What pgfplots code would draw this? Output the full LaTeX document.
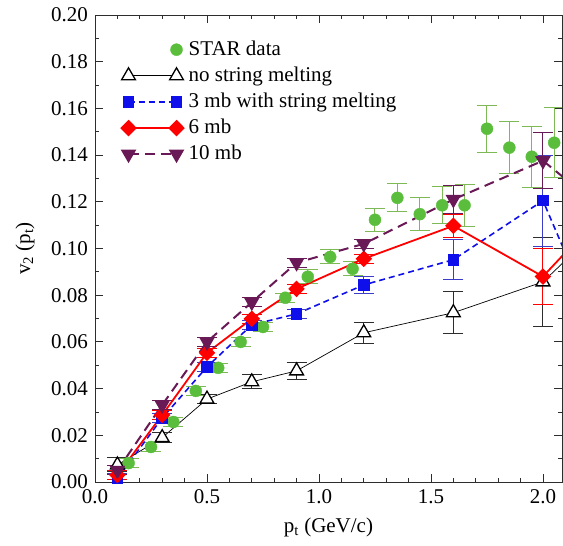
\documentclass[border=0pt]{standalone}
\usepackage{fontspec}
\setmainfont{Liberation Serif}
\usepackage{pgfplots}
\usepackage{pgfplotstable}
\pgfplotsset{compat=1.18}
\definecolor{stargreen}{RGB}{90,190,60}
\definecolor{stargreenbar}{RGB}{125,185,85}
\definecolor{mbblue}{RGB}{15,15,235}
\definecolor{mbbluebar}{RGB}{60,60,200}
\definecolor{mbpurple}{RGB}{105,25,85}
\definecolor{darkbar}{RGB}{45,45,45}
\pgfplotsset{
  markonlylegend/.style={legend image code/.code={\draw[##1] plot coordinates {(48bp,0bp)}; \path (0bp,0bp) (58bp,0bp);}},
  bothendslegend/.style={legend image code/.code={\draw[##1] plot coordinates {(0bp,0bp) (48bp,0bp)}; \path (58bp,0bp);}},
}

\pgfplotstableread{
x y e
0.15 0.0081 0.002
0.25 0.0150 0.002
0.35 0.0257 0.002
0.45 0.0390 0.002
0.55 0.0489 0.002
0.65 0.0600 0.002
0.75 0.0664 0.002
0.85 0.0789 0.002
0.95 0.0879 0.003
1.05 0.0964 0.003
1.15 0.0913 0.003
1.25 0.1123 0.005
1.35 0.1217 0.006
1.45 0.1147 0.007
1.55 0.1185 0.008
1.65 0.1185 0.009
1.75 0.1513 0.010
1.85 0.1432 0.011
1.95 0.1393 0.013
2.05 0.1453 0.015
}\stardata

\pgfplotstableread{
x y e
0.1 0.0073 0.003
0.3 0.0190 0.002
0.5 0.0355 0.002
0.7 0.0429 0.003
0.9 0.0476 0.0036
1.2 0.0639 0.0045
1.6 0.0725 0.009
2.0 0.0857 0.019
2.2 0.1040 0
}\nomelt

\pgfplotstableread{
x y e
0.1 0.0015 0.002
0.3 0.0274 0.002
0.5 0.0493 0.002
0.7 0.0673 0.002
0.9 0.0720 0.002
1.2 0.0844 0.0036
1.6 0.0952 0.0085
2.0 0.1205 0.0195
2.2 0.0757 0
}\threemb

\pgfplotstableread{
x y e
0.1 0.0030 0.002
0.3 0.0287 0.002
0.5 0.0553 0.002
0.7 0.0699 0.002
0.9 0.0827 0.002
1.2 0.0956 0.002
1.6 0.1097 0.005
2.0 0.0880 0.012
2.2 0.1085 0
}\sixmb

\pgfplotstableread{
x y e
0.1 0.0050 0.002
0.3 0.0330 0.002
0.5 0.0600 0.002
0.7 0.0770 0.002
0.9 0.0939 0.002
1.2 0.1020 0.002
1.6 0.1210 0.006
2.0 0.1376 0.012
2.2 0.1220 0
}\tenmb

\begin{document}
\fontsize{21bp}{25bp}\selectfont
\begin{tikzpicture}
\useasboundingbox (-95bp,-64bp) rectangle (468bp,482bp);
\begin{axis}[
  scale only axis, width=467bp, height=467bp,
  at={(0,0)}, anchor=south west,
  xmin=0, xmax=2.085, ymin=0, ymax=0.2,
  xtick={0,0.5,1.0,1.5,2.0}, minor x tick num=4,
  ytick={0,0.02,0.04,0.06,0.08,0.1,0.12,0.14,0.16,0.18,0.2}, minor y tick num=1,
  tick align=inside,
  major tick length=8bp, minor tick length=4bp,
  every tick/.style={darkbar, line width=0.8bp},
  axis line style={darkbar, line width=0.9bp},
  /pgf/number format/assume math mode=true,
  tick label style={font=\fontsize{21bp}{25bp}\selectfont},
  x tick label style={/pgf/number format/.cd, fixed, fixed zerofill, precision=1},
  y tick label style={/pgf/number format/.cd, fixed, fixed zerofill, precision=2},
  xlabel={p\textsubscript{t} (GeV/c)},
  ylabel={v\textsubscript{2} (p\textsubscript{t})},
  xlabel style={at={(axis description cs:0.5,-0.098)}, anchor=center, font=\fontsize{21bp}{25bp}\selectfont},
  ylabel style={at={(axis description cs:-0.15,0.5)}, anchor=center, font=\fontsize{21bp}{25bp}\selectfont},
  legend style={at={(axis description cs:0.05,0.952)}, anchor=north west, draw=none, fill=none,
    font=\fontsize{21bp}{25bp}\selectfont, row sep=6bp, nodes={inner sep=1.2bp}},
  legend cell align=left,
  bothendslegend,
  clip=true,
]
\addplot[only marks, mark=*, mark size=6bp, mark options={stargreen, fill=stargreen},
  markonlylegend,
  error bars/.cd, y dir=both, y explicit,
  error bar style={stargreenbar, line width=1bp},
  error mark options={rotate=90, stargreenbar, mark size=10bp, line width=1bp}]
  table[x=x, y=y, y error=e] {\stardata};
\addlegendentry{STAR data}

\addplot[black, line width=0.7bp, mark=triangle*, mark size=8bp,
  mark options={solid, black, fill=white, line width=1.3bp},
  error bars/.cd, y dir=both, y explicit,
  error bar style={darkbar, line width=1bp},
  error mark options={rotate=90, darkbar, mark size=10bp, line width=1bp}]
  table[x=x, y=y, y error=e] {\nomelt};
\addlegendentry{no string melting}

\addplot[mbblue, line width=1.6bp, dash pattern=on 6bp off 4bp, mark=square*, mark size=5bp,
  mark options={solid, mbblue, fill=mbblue},
  error bars/.cd, y dir=both, y explicit,
  error bar style={mbbluebar, line width=1bp, solid},
  error mark options={rotate=90, mbbluebar, mark size=10bp, line width=1bp}]
  table[x=x, y=y, y error=e] {\threemb};
\addlegendentry{3 mb with string melting}

\addplot[red, line width=1.8bp, mark=diamond*, mark size=7bp,
  mark options={solid, red, fill=red, xscale=1.33},
  error bars/.cd, y dir=both, y explicit,
  error bar style={red, line width=1bp, solid},
  error mark options={rotate=90, red, mark size=10bp, line width=1bp}]
  table[x=x, y=y, y error=e] {\sixmb};
\addlegendentry{6 mb}

\addplot[mbpurple, line width=2bp, dash pattern=on 10bp off 6bp, mark=triangle*, mark size=7bp,
  mark options={solid, mbpurple, fill=mbpurple, rotate=180},
  error bars/.cd, y dir=both, y explicit,
  error bar style={mbpurple, line width=1bp, solid},
  error mark options={rotate=90, mbpurple, mark size=10bp, line width=1bp}]
  table[x=x, y=y, y error=e] {\tenmb};
\addlegendentry{10 mb}
\end{axis}
\end{tikzpicture}
\end{document}
